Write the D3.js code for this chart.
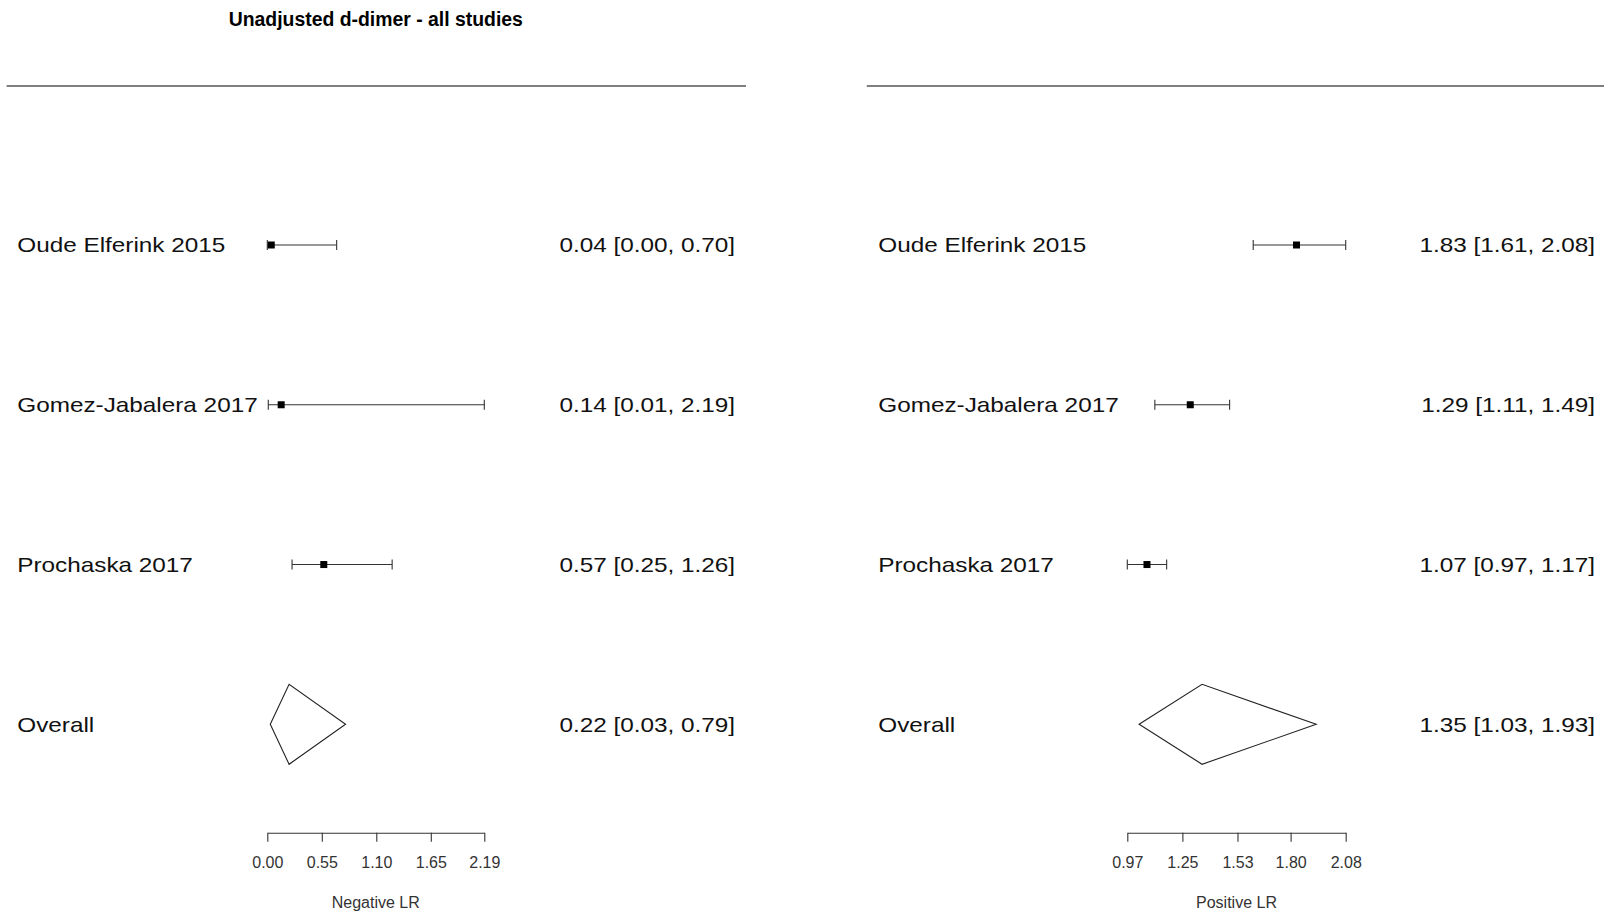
<!DOCTYPE html>
<html>
<head>
<meta charset="utf-8">
<script src="https://cdn.jsdelivr.net/npm/d3@7"></script>
<style>
  html, body { margin: 0; padding: 0; background: #fff; }
  svg { display: block; font-family: "Liberation Sans", Arial, Helvetica, sans-serif; }
</style>
</head>
<body>
<svg id="chart" width="1604" height="913"></svg>
<script>
// ---- data ----
const title = "Unadjusted d-dimer - all studies";
const studies = ["Oude Elferink 2015", "Gomez-Jabalera 2017", "Prochaska 2017"];
const overallLabel = "Overall";

const negEst = [0.04, 0.14, 0.57];
const negLo  = [0.00, 0.01, 0.25];
const negHi  = [0.70, 2.19, 1.26];
const negOverall = [0.22, 0.03, 0.79]; // est, lo, hi
const negTicks = ["0.00", "0.55", "1.10", "1.65", "2.19"];
const negTitle = "Negative LR";

const posEst = [1.83, 1.29, 1.07];
const posLo  = [1.61, 1.11, 0.97];
const posHi  = [2.08, 1.49, 1.17];
const posOverall = [1.35, 1.03, 1.93];
const posTicks = ["0.97", "1.25", "1.53", "1.80", "2.08"];
const posTitle = "Positive LR";

// ---- drawing ----
const svg = d3.select("#chart");
const fmt = d3.format(".2f");
const TXT_SCALE = 1.18;
const rowY = d3.scaleLinear().domain([0, 3]).range([245, 724.3]);
const axisY = 832.7;

svg.append("text")
  .attr("x", 375.8).attr("y", 25.7)
  .attr("text-anchor", "middle")
  .attr("font-weight", "bold")
  .attr("font-size", "19.4px")
  .attr("fill", "#000")
  .text(title);

function bigText(g, x, y, str, anchor) {
  g.append("g").attr("transform", `translate(${x},${y})`)
    .append("text")
    .attr("transform", `scale(${TXT_SCALE},1)`)
    .attr("text-anchor", anchor)
    .attr("font-size", "20.6px")
    .attr("fill", "#111")
    .text(str);
}

function panel(cfg) {
  const g = svg.append("g");
  const x = d3.scaleLinear()
    .domain([+cfg.ticks[0], +cfg.ticks[cfg.ticks.length - 1]])
    .range(cfg.range);

  // top rule
  g.append("line")
    .attr("x1", cfg.rule[0]).attr("x2", cfg.rule[1])
    .attr("y1", 86).attr("y2", 86)
    .attr("stroke", "#555").attr("stroke-width", 1.4);

  // study rows
  cfg.est.forEach((e, i) => {
    const y = rowY(i);
    g.append("line")
      .attr("x1", x(cfg.lo[i])).attr("x2", x(cfg.hi[i]))
      .attr("y1", y).attr("y2", y)
      .attr("stroke", "#333").attr("stroke-width", 1.1);
    [cfg.lo[i], cfg.hi[i]].forEach(v => {
      g.append("line")
        .attr("x1", x(v)).attr("x2", x(v))
        .attr("y1", y - 5).attr("y2", y + 5)
        .attr("stroke", "#333").attr("stroke-width", 1.1);
    });
    g.append("rect")
      .attr("x", x(e) - 3.5).attr("y", y - 3.5)
      .attr("width", 7).attr("height", 7)
      .attr("fill", "#000");
    bigText(g, cfg.labelX, y + 7.3, studies[i], "start");
    bigText(g, cfg.numX, y + 7.3,
      `${fmt(e)} [${fmt(cfg.lo[i])}, ${fmt(cfg.hi[i])}]`, "end");
  });

  // overall diamond
  const oy = rowY(3);
  const [oe, ol, oh] = cfg.overall;
  const pts = [[x(ol), oy], [x(oe), oy - 40], [x(oh), oy], [x(oe), oy + 40]];
  g.append("path")
    .attr("d", d3.line()(pts) + "Z")
    .attr("fill", "#fff").attr("stroke", "#222").attr("stroke-width", 1.1);
  bigText(g, cfg.labelX, oy + 7.3, overallLabel, "start");
  bigText(g, cfg.numX, oy + 7.3, `${fmt(oe)} [${fmt(ol)}, ${fmt(oh)}]`, "end");

  // axis
  const ax = g.append("g").attr("transform", `translate(0,${axisY})`)
    .call(d3.axisBottom(x)
      .tickValues(cfg.ticks.map(Number))
      .tickFormat((d, i) => cfg.ticks[i])
      .tickSizeInner(9).tickSizeOuter(0));
  ax.select(".domain").attr("stroke", "#333").attr("stroke-width", 1.1);
  ax.selectAll(".tick line").attr("stroke", "#333").attr("stroke-width", 1.1);
  ax.selectAll(".tick text")
    .attr("y", 35.8).attr("dy", 0)
    .attr("font-size", "16px")
    .attr("font-family", "\"Liberation Sans\", Arial, sans-serif")
    .attr("fill", "#333");

  g.append("text")
    .attr("x", (cfg.range[0] + cfg.range[1]) / 2).attr("y", 907.5)
    .attr("text-anchor", "middle")
    .attr("font-size", "16px")
    .attr("fill", "#333")
    .text(cfg.title);
}

panel({
  est: negEst, lo: negLo, hi: negHi, overall: negOverall,
  ticks: negTicks, title: negTitle,
  range: [267.3, 484.3], rule: [6.6, 746], labelX: 17.3, numX: 735
});
panel({
  est: posEst, lo: posLo, hi: posHi, overall: posOverall,
  ticks: posTicks, title: posTitle,
  range: [1127.3, 1345.7], rule: [866.8, 1604], labelX: 878.3, numX: 1595
});
</script>
</body>
</html>
